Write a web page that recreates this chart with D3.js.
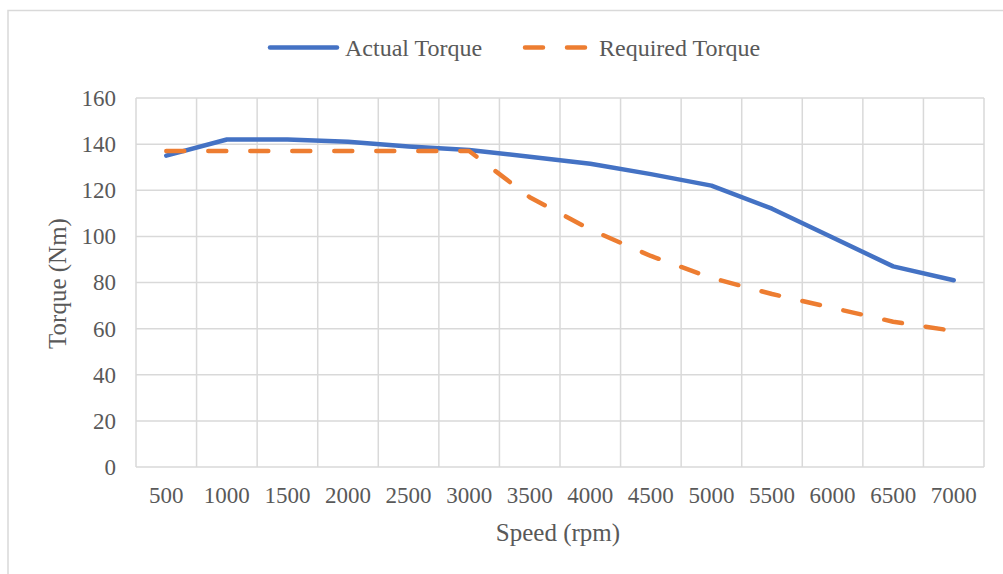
<!DOCTYPE html>
<html>
<head>
<meta charset="utf-8">
<script src="https://cdn.jsdelivr.net/npm/d3@7"></script>
<style>
  body { margin: 0; background: #fff; }
</style>
</head>
<body>
<svg width="1003" height="574"></svg>
<script>
const speeds = ['500', '1000', '1500', '2000', '2500', '3000', '3500', '4000', '4500', '5000', '5500', '6000', '6500', '7000'];
const actualTorque = [135, 142, 142, 141, 139, 137.5, 134.5, 131.5, 127, 122, 112, 99.5, 87, 81];
const requiredTorque = [137, 137, 137, 137, 137, 137, 117, 103, 91.5, 82, 75, 69, 63, 59];
const yTicks = [0, 20, 40, 60, 80, 100, 120, 140, 160];

const serif = '"Liberation Serif", "Times New Roman", Times, serif';
const textColor = '#595959';

const svg = d3.select('svg');
const w = +svg.attr('width');
const h = +svg.attr('height');

// chart frame (only top and left edges show in the picture)
svg.append('path')
  .attr('d', `M8,${h} L8,10.5 L${w},10.5`)
  .attr('fill', 'none')
  .attr('stroke', '#d9d9d9')
  .attr('stroke-width', 1.5);

const plotL = 136, plotR = 984, plotT = 98, plotB = 467;

const x = d3.scaleBand().domain(speeds).range([plotL, plotR]);
const y = d3.scaleLinear().domain([0, 160]).range([plotB, plotT]);

// grid
const grid = svg.append('g').attr('stroke', '#d9d9d9').attr('stroke-width', 1.5);
grid.selectAll('.hg')
  .data(yTicks)
  .enter()
  .append('line')
  .attr('x1', plotL).attr('x2', plotR)
  .attr('y1', d => y(d)).attr('y2', d => y(d));
grid.selectAll('.vg')
  .data(speeds.concat(['end']))
  .enter()
  .append('line')
  .attr('x1', (d, i) => plotL + i * x.bandwidth())
  .attr('x2', (d, i) => plotL + i * x.bandwidth())
  .attr('y1', plotT).attr('y2', plotB);

// axes labels
const yAxis = svg.append('g')
  .attr('transform', `translate(${plotL},0)`)
  .call(d3.axisLeft(y).tickValues(yTicks).tickSize(0).tickPadding(20));
yAxis.select('.domain').remove();
yAxis.attr('font-family', serif).attr('font-size', 23);
yAxis.selectAll('text').attr('fill', textColor);

const xAxis = svg.append('g')
  .attr('transform', `translate(0,${plotB})`)
  .call(d3.axisBottom(x).tickSize(0).tickPadding(20));
xAxis.select('.domain').remove();
xAxis.attr('font-family', serif).attr('font-size', 23);
xAxis.selectAll('text').attr('fill', textColor);

// lines
const line = d3.line()
  .x((d, i) => x(speeds[i]) + x.bandwidth() / 2)
  .y(d => y(d));

svg.append('path')
  .datum(actualTorque)
  .attr('d', line)
  .attr('fill', 'none')
  .attr('stroke', '#4472c4')
  .attr('stroke-width', 4.5)
  .attr('stroke-linecap', 'round')
  .attr('stroke-linejoin', 'round');

svg.append('path')
  .datum(requiredTorque)
  .attr('d', line)
  .attr('fill', 'none')
  .attr('stroke', '#ed7d31')
  .attr('stroke-width', 4.5)
  .attr('stroke-dasharray', '18,24')
  .attr('stroke-linecap', 'round')
  .attr('stroke-linejoin', 'round');

// axis titles
svg.append('text')
  .attr('x', (plotL + plotR) / 2 - 2)
  .attr('y', 541)
  .attr('text-anchor', 'middle')
  .attr('font-family', serif).attr('font-size', 25).attr('fill', textColor)
  .text('Speed (rpm)');

svg.append('text')
  .attr('transform', `translate(66,${(plotT + plotB) / 2 + 1}) rotate(-90)`)
  .attr('text-anchor', 'middle')
  .attr('font-family', serif).attr('font-size', 25).attr('fill', textColor)
  .text('Torque (Nm)');

// legend
const legend = svg.append('g')
  .attr('font-family', serif).attr('font-size', 24).attr('fill', textColor);
legend.append('line')
  .attr('x1', 270).attr('x2', 337).attr('y1', 47.5).attr('y2', 47.5)
  .attr('stroke', '#4472c4').attr('stroke-width', 4.5).attr('stroke-linecap', 'round');
legend.append('text')
  .attr('x', 345).attr('y', 55.5)
  .text('Actual Torque');
legend.append('line')
  .attr('x1', 525).attr('x2', 585).attr('y1', 47.5).attr('y2', 47.5)
  .attr('stroke', '#ed7d31').attr('stroke-width', 4.5).attr('stroke-linecap', 'round')
  .attr('stroke-dasharray', '18,24');
legend.append('text')
  .attr('x', 599).attr('y', 55.5)
  .text('Required Torque');
</script>
</body>
</html>
